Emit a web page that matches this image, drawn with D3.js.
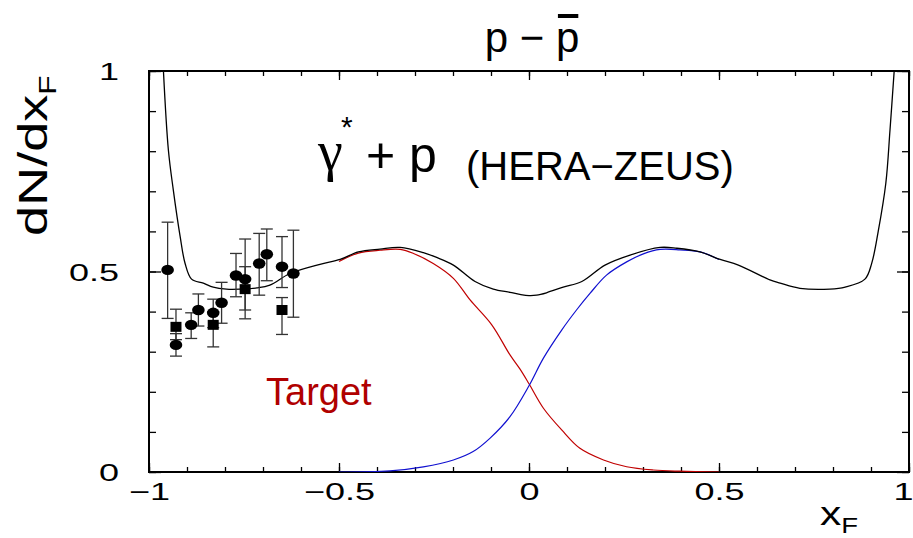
<!DOCTYPE html>
<html>
<head>
<meta charset="utf-8">
<script src="https://cdn.jsdelivr.net/npm/d3@7"></script>
<style>
  body { margin: 0; background: #fff; }
  svg text { font-family: "Liberation Sans", Arial, sans-serif; }
</style>
</head>
<body>
<div id="chart"></div>
<script>
// total distribution (black)
const totalX = [-0.962, -0.949, -0.936, -0.918, -0.905, -0.888, -0.857, -0.831, -0.796, -0.76, -0.716, -0.682,
  -0.629, -0.55, -0.497, -0.449, -0.392, -0.339, -0.278, -0.243, -0.199, -0.142, -0.094, -0.05, -0.024, 0,
  0.02, 0.046, 0.09, 0.139, 0.2, 0.266, 0.345, 0.389, 0.45, 0.503, 0.551, 0.634, 0.661, 0.713, 0.792,
  0.832, 0.884, 0.902, 0.919, 0.939, 0.95, 0.961];
const totalY = [1.0, 0.803, 0.703, 0.587, 0.52, 0.481, 0.471, 0.461, 0.456, 0.456, 0.459, 0.466,
  0.495, 0.518, 0.53, 0.549, 0.556, 0.56, 0.547, 0.535, 0.516, 0.475, 0.456, 0.448, 0.443, 0.44,
  0.441, 0.447, 0.461, 0.475, 0.516, 0.541, 0.56, 0.558, 0.549, 0.53, 0.516, 0.479, 0.471, 0.458, 0.456,
  0.461, 0.481, 0.521, 0.6, 0.72, 0.853, 1.0];

// target fragmentation (red)
const targetX = [-0.5, -0.449, -0.392, -0.339, -0.304, -0.252, -0.199, -0.155, -0.098, -0.05, -0.024, 0,
  0.038, 0.086, 0.134, 0.196, 0.257, 0.327, 0.397, 0.5];
const targetY = [0.525, 0.546, 0.553, 0.555, 0.545, 0.52, 0.483, 0.429, 0.367, 0.292, 0.257, 0.22,
  0.159, 0.105, 0.059, 0.03, 0.013, 0.005, 0.002, 0.0];

// current fragmentation (blue)
const currentX = [-0.5, -0.366, -0.278, -0.199, -0.147, -0.103, -0.05, 0, 0.038, 0.086, 0.125, 0.161,
  0.204, 0.257, 0.301, 0.345, 0.397, 0.45, 0.5];
const currentY = [0.0, 0.003, 0.013, 0.03, 0.051, 0.084, 0.138, 0.215, 0.284, 0.354, 0.404, 0.446,
  0.491, 0.524, 0.544, 0.555, 0.554, 0.549, 0.53];

// HERA-ZEUS data, circles
const circX = [-0.951, -0.929, -0.889, -0.870, -0.831, -0.809, -0.771, -0.747, -0.710, -0.690, -0.650, -0.620];
const circY = [0.504, 0.317, 0.367, 0.404, 0.397, 0.422, 0.490, 0.481, 0.520, 0.543, 0.512, 0.495];
const circLo = [0.383, 0.289, 0.333, 0.364, 0.36, 0.371, 0.437, 0.382, 0.441, 0.477, 0.46, 0.386];
const circHi = [0.623, 0.345, 0.397, 0.444, 0.431, 0.473, 0.545, 0.581, 0.595, 0.606, 0.587, 0.603];

// HERA-ZEUS data, squares
const sqX = [-0.929, -0.831, -0.747, -0.650];
const sqY = [0.362, 0.367, 0.456, 0.404];
const sqLo = [0.33, 0.312, 0.404, 0.343];
const sqHi = [0.406, 0.40, 0.512, 0.435];

const xTicks = [-1, -0.5, 0, 0.5, 1];
const yTicks = [0, 0.5, 1];

const W = 913, H = 538;
const svg = d3.select('#chart').append('svg').attr('width', W).attr('height', H);

const x = d3.scaleLinear().domain([-1, 1]).range([149, 909]);
const y = d3.scaleLinear().domain([0, 1]).range([472, 71]);
const fmt = d => d3.format('~g')(d);

// minor ticks on all sides
const minorX = d3.range(-10, 11).map(i => i / 10);
const minorY = d3.range(0, 11).map(i => i / 10);
svg.append('g').attr('transform', `translate(0,${y(0)})`)
  .call(d3.axisBottom(x).tickValues(minorX).tickSize(-5).tickFormat(''));
svg.append('g').attr('transform', `translate(0,${y(1)})`)
  .call(d3.axisTop(x).tickValues(minorX).tickSize(-5).tickFormat(''));
svg.append('g').attr('transform', `translate(${x(-1)},0)`)
  .call(d3.axisLeft(y).tickValues(minorY).tickSize(-7).tickFormat(''));
svg.append('g').attr('transform', `translate(${x(1)},0)`)
  .call(d3.axisRight(y).tickValues(minorY).tickSize(-7).tickFormat(''));

// major ticks + labels
const gx = svg.append('g').attr('transform', `translate(0,${y(0)})`)
  .call(d3.axisBottom(x).tickValues(xTicks).tickSize(-9).tickPadding(10).tickFormat(fmt));
svg.append('g').attr('transform', `translate(0,${y(1)})`)
  .call(d3.axisTop(x).tickValues(xTicks).tickSize(-9).tickFormat(''));
const gy = svg.append('g').attr('transform', `translate(${x(-1)},0)`)
  .call(d3.axisLeft(y).tickValues(yTicks).tickSize(-12).tickPadding(20).tickFormat(fmt));
svg.append('g').attr('transform', `translate(${x(1)},0)`)
  .call(d3.axisRight(y).tickValues(yTicks).tickSize(-12).tickFormat(''));

svg.selectAll('.domain').remove();
svg.selectAll('.tick line').attr('stroke', '#000').attr('stroke-width', 1.3);
gx.selectAll('text').attr('font-size', 24).attr('fill', '#000')
  .attr('transform', 'scale(1.5,1)').attr('dy', '0.75em')
  .attr('dx', d => d === 1 ? -4 : 0);
gy.selectAll('text').attr('font-size', 24).attr('fill', '#000')
  .attr('transform', 'scale(1.5,1)').attr('dy', '0.36em');

// frame
svg.append('rect').attr('x', x(-1)).attr('y', y(1))
  .attr('width', x(1) - x(-1)).attr('height', y(0) - y(1))
  .attr('fill', 'none').attr('stroke', '#000').attr('stroke-width', 2);

svg.append('clipPath').attr('id', 'clip').append('rect')
  .attr('x', x(-1)).attr('y', y(1)).attr('width', x(1) - x(-1)).attr('height', y(0) - y(1));

const line = d3.line().x(d => x(d[0])).y(d => y(d[1])).curve(d3.curveCatmullRom.alpha(0.5));
const plot = svg.append('g').attr('clip-path', 'url(#clip)');

plot.append('path').datum(d3.zip(targetX, targetY)).attr('d', line)
  .attr('fill', 'none').attr('stroke', '#c00000').attr('stroke-width', 1.2);
plot.append('path').datum(d3.zip(currentX, currentY)).attr('d', line)
  .attr('fill', 'none').attr('stroke', '#1010d0').attr('stroke-width', 1.2);
plot.append('path').datum(d3.zip(totalX, totalY)).attr('d', line)
  .attr('fill', 'none').attr('stroke', '#000').attr('stroke-width', 1.3);

// error bars
function errorBars(xs, lo, hi) {
  const g = plot.append('g').attr('stroke', '#333').attr('stroke-width', 1.3);
  xs.forEach((v, i) => {
    g.append('line').attr('x1', x(v)).attr('x2', x(v)).attr('y1', y(lo[i])).attr('y2', y(hi[i]));
    [lo[i], hi[i]].forEach(e => {
      g.append('line').attr('x1', x(v) - 6).attr('x2', x(v) + 6).attr('y1', y(e)).attr('y2', y(e));
    });
  });
}
errorBars(circX, circLo, circHi);
errorBars(sqX, sqLo, sqHi);

plot.selectAll('ellipse.pt').data(d3.zip(circX, circY)).enter().append('ellipse')
  .attr('cx', d => x(d[0])).attr('cy', d => y(d[1])).attr('rx', 6.3).attr('ry', 5.2).attr('fill', '#000');
plot.selectAll('rect.sq').data(d3.zip(sqX, sqY)).enter().append('rect')
  .attr('x', d => x(d[0]) - 5.5).attr('y', d => y(d[1]) - 5).attr('width', 11).attr('height', 10).attr('fill', '#000');

// title p - pbar
const title = svg.append('text').attr('x', 532).attr('y', 52).attr('text-anchor', 'middle')
  .attr('font-size', 42).attr('fill', '#000').text('p \u2212 p');
const n = title.text().length;
const s = title.node().getStartPositionOfChar(n - 1);
const e = title.node().getEndPositionOfChar(n - 1);
svg.append('rect').attr('x', s.x + 2).attr('y', 14).attr('width', e.x - s.x - 3).attr('height', 4).attr('fill', '#000');

// gamma* + p (HERA-ZEUS)
svg.append('text').attr('x', 318).attr('y', 170).attr('font-size', 56)
  .style('font-family', '"Liberation Serif", "DejaVu Serif", serif').text('\u03b3');
svg.append('text').attr('x', 341).attr('y', 137).attr('font-size', 30).text('*');
svg.append('text').attr('x', 366).attr('y', 172).attr('font-size', 50).text('+ p');
svg.append('text').attr('x', 466).attr('y', 180).attr('font-size', 40).text('(HERA\u2212ZEUS)');

// Target label
svg.append('text').attr('x', 266).attr('y', 405).attr('font-size', 38).attr('fill', '#b00000').text('Target');

// axis titles
const yl = svg.append('text').attr('transform', 'translate(47,236) rotate(-90) scale(1.32,1)')
  .attr('font-size', 41).attr('fill', '#000');
yl.append('tspan').text('dN/dx');
yl.append('tspan').attr('font-size', 24).attr('dy', 9).text('F');

const xl = svg.append('text').attr('transform', 'translate(820,525) scale(1.25,1)')
  .attr('font-size', 34).attr('fill', '#000');
xl.append('tspan').text('x');
xl.append('tspan').attr('font-size', 22).attr('dy', 8).text('F');
</script>
</body>
</html>
